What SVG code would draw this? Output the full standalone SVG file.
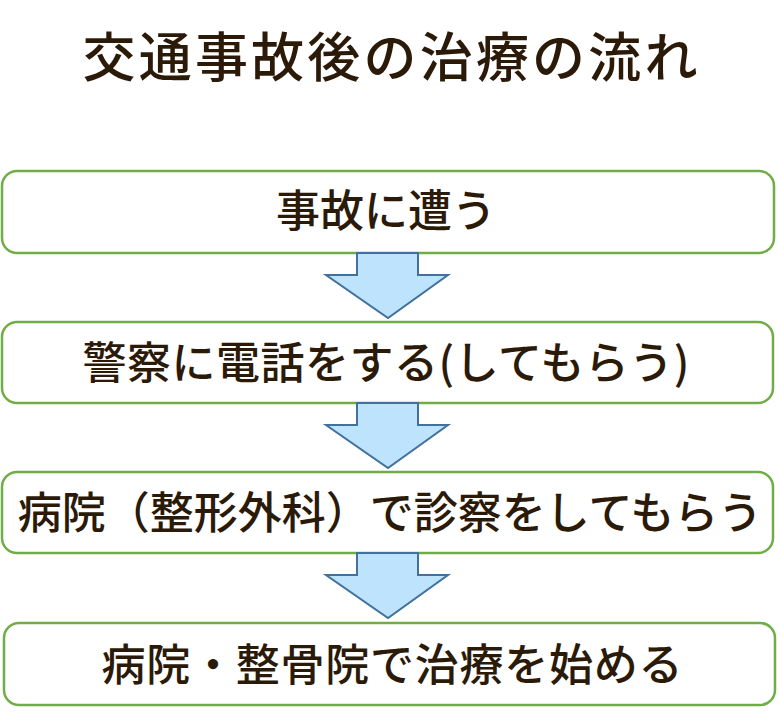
<svg xmlns="http://www.w3.org/2000/svg" width="778" height="718" viewBox="0 0 778 718">
<style>
.box{fill:#ffffff;stroke:#70ad47;stroke-width:2.5}
.t{font-family:"Noto Sans CJK JP","Noto Sans CJK SC",sans-serif;font-size:44px;font-weight:500;fill:#2b1a08;text-anchor:middle}
.title{font-size:53px}
.arr{fill:#bde3fd;stroke:#41719c;stroke-width:2;stroke-linejoin:miter}
</style>
<rect width="778" height="718" fill="#ffffff"/>
<text class="t title" x="390" y="77" textLength="615" lengthAdjust="spacing">交通事故後の治療の流れ</text>
<g id="node1">
<rect class="box" x="2" y="171" width="772" height="82" rx="15"/>
<text class="t" x="386" y="227">事故に遭う</text>
</g>
<g id="node2">
<rect class="box" x="2" y="322" width="771" height="81" rx="15"/>
<text class="t" x="386" y="379" textLength="607" lengthAdjust="spacing">警察に電話をする(してもらう)</text>
</g>
<g id="node3">
<rect class="box" x="2" y="472" width="771" height="81" rx="15"/>
<text class="t" x="390" y="529">病院（整形外科）で診察をしてもらう</text>
</g>
<g id="node4">
<rect class="box" x="4" y="623" width="771" height="82" rx="15"/>
<text class="t" x="392" y="681" textLength="581" lengthAdjust="spacing">病院・整骨院で治療を始める</text>
</g>
<g id="connectors">
<path class="arr" d="M357,253 H418 V275 H448 L388,318 L326,275 H357 Z"/>
<path class="arr" d="M357,403 H418 V425 H448 L388,468 L326,425 H357 Z"/>
<path class="arr" d="M357,553 H418 V575 H448 L388,618 L326,575 H357 Z"/>
</g>
</svg>
